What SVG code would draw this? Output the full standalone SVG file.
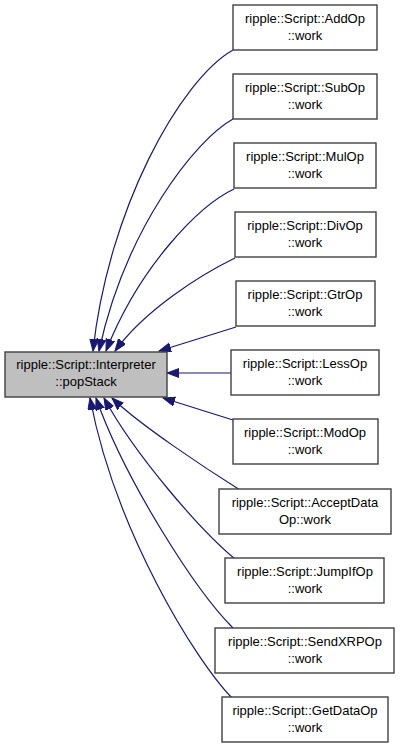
<svg xmlns="http://www.w3.org/2000/svg" width="400" height="749" viewBox="0 0 400 749">
<style>
.n rect{fill:#fff;stroke:#404040;stroke-width:1.4}
.n.main rect{fill:#bfbfbf}
.n text{font-family:"Liberation Sans",Arial,sans-serif;font-size:13px;fill:#000;text-anchor:middle}
.e path{fill:none;stroke:#191970;stroke-width:1.2;marker-end:url(#ah)}
</style>
<defs>
<marker id="ah" markerWidth="14" markerHeight="10" refX="12" refY="4.5" orient="auto" markerUnits="userSpaceOnUse">
<path d="M0,0 L12,4.5 L0,9 z" fill="#191970" stroke="#191970" stroke-width="1"/>
</marker>
</defs>
<g id="edges" class="e">
<path d="M233,50 C180,80 108,210 93,351"/>
<path d="M233,119 C195,140 125,230 99,351"/>
<path d="M234,189 C200,205 140,265 106,351"/>
<path d="M235,258 C200,275 145,310 115,351"/>
<path d="M236,327 L159,351"/>
<path d="M231,373 L167,373"/>
<path d="M233,420 L163,398"/>
<path d="M240,490 C205,468 140,425 112,398"/>
<path d="M235,559 C200,530 135,455 104,398"/>
<path d="M233,628 C195,590 125,480 96,398"/>
<path d="M232,698 C195,660 115,530 90,398"/>
</g>
<g id="main" class="n main"><rect x="5" y="352" width="162" height="45"/><text x="86" y="369">ripple::Script::Interpreter</text><text x="86" y="386">::popStack</text></g>
<g id="addop" class="n"><rect x="233" y="5" width="144" height="45"/><text x="305" y="23">ripple::Script::AddOp</text><text x="305" y="40">::work</text></g>
<g id="subop" class="n"><rect x="233" y="74" width="144" height="45"/><text x="305" y="92">ripple::Script::SubOp</text><text x="305" y="109">::work</text></g>
<g id="mulop" class="n"><rect x="234" y="143" width="142" height="45"/><text x="305" y="161">ripple::Script::MulOp</text><text x="305" y="178">::work</text></g>
<g id="divop" class="n"><rect x="235" y="212" width="141" height="45"/><text x="305" y="230">ripple::Script::DivOp</text><text x="305" y="247">::work</text></g>
<g id="gtrop" class="n"><rect x="236" y="281" width="139" height="45"/><text x="305" y="299">ripple::Script::GtrOp</text><text x="305" y="316">::work</text></g>
<g id="lessop" class="n"><rect x="231" y="350" width="148" height="45"/><text x="305" y="368">ripple::Script::LessOp</text><text x="305" y="385">::work</text></g>
<g id="modop" class="n"><rect x="233" y="419" width="145" height="45"/><text x="305" y="437">ripple::Script::ModOp</text><text x="305" y="454">::work</text></g>
<g id="acceptdataop" class="n"><rect x="219" y="489" width="172" height="45"/><text x="305" y="507">ripple::Script::AcceptData</text><text x="305" y="524">Op::work</text></g>
<g id="jumpifop" class="n"><rect x="225" y="558" width="159" height="45"/><text x="305" y="576">ripple::Script::JumpIfOp</text><text x="305" y="593">::work</text></g>
<g id="sendxrpop" class="n"><rect x="215" y="628" width="179" height="45"/><text x="305" y="646">ripple::Script::SendXRPOp</text><text x="305" y="663">::work</text></g>
<g id="getdataop" class="n"><rect x="222" y="697" width="166" height="45"/><text x="305" y="715">ripple::Script::GetDataOp</text><text x="305" y="732">::work</text></g>
</svg>
